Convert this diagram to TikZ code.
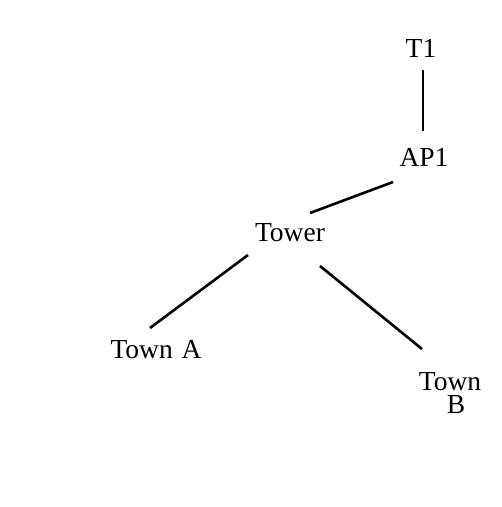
\documentclass[tikz,border=0pt]{standalone}
\usepackage{fontspec}
\setmainfont{Liberation Serif}
\begin{document}
\begin{tikzpicture}[x=1pt, y=-1pt,
	lbl/.style={inner sep=0pt, font=\fontsize{27.5}{23}\selectfont},
	link/.style={line width=2.6pt}]
	\useasboundingbox (0,0) rectangle (502,507);
	% Nodos
		\node[lbl] (T1) at (421,48) {T1};
		\node[lbl] (AP1) at (424,157) {AP1};
		\node[lbl] (Tower) at (290,233) {Tower};
		\node[lbl] (TownA) at (156,350) {Town\hspace{2pt} A};
		\node[lbl, align=center] (TownB) at (450,393) {Town\\\hspace*{12pt}B};
	% Enlaces
		\draw[link] ([shift={(2,22)}]T1.center) -- ([shift={(-1,-26)}]AP1.center);
		\draw[link] ([shift={(-31,25)}]AP1.center) -- ([shift={(20,-20)}]Tower.center);
		\draw[link] ([shift={(-42,22)}]Tower.center) -- ([shift={(-6,-22)}]TownA.center);
		\draw[link] ([shift={(30,33)}]Tower.center) -- ([shift={(-28,-44)}]TownB.center);
\end{tikzpicture}
\end{document}
